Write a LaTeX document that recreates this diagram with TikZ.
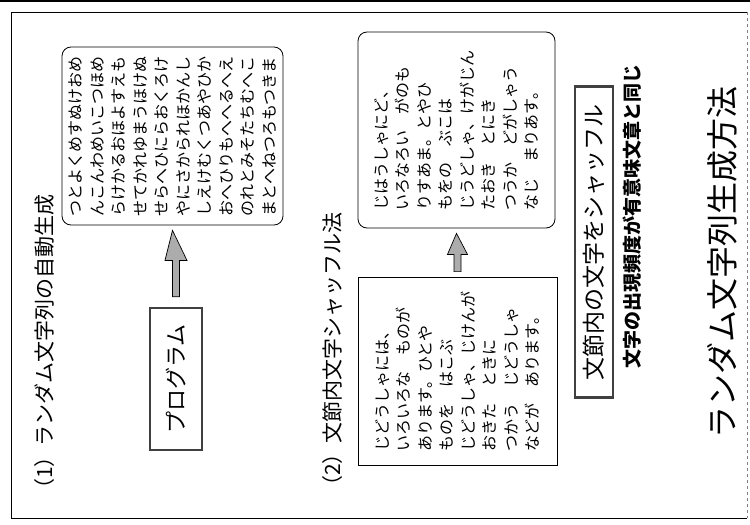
\documentclass[tikz,border=0pt]{standalone}
\usepackage{fontspec}
\setmainfont{Noto Sans CJK JP}
\usetikzlibrary{calc}
\newcommand{\fatarrow}[4]{% tail, tip, head length, head half width
  \path let \p1=(#1), \p2=(#2) in [draw=black, line width=0.7pt, fill=gray!65]
    (\x1-3.5pt,\y1) -- (\x1-3.5pt,\y2-#3) -- (\x1-#4,\y2-#3) -- (\x2,\y2)
    -- (\x1+#4,\y2-#3) -- (\x1+3.5pt,\y2-#3) -- (\x1+3.5pt,\y1) -- cycle;}
\begin{document}
\begin{tikzpicture}[x=1pt,y=-1pt,
  vt/.style={rotate=90, inner sep=0pt},
  hdr/.style={vt, anchor=west, font=\fontsize{21}{24}\selectfont},
  txtbox/.style={rotate=90, draw, line width=0.8pt, align=left, inner sep=0pt,
    font=\fontsize{16}{21.5}\selectfont},
  rbox/.style={txtbox, rounded corners=9pt},
  framebox/.style={rotate=90, draw=black!75, line width=2.4pt, inner sep=0pt}
]
\useasboundingbox (0,0) rectangle (750,525);
% page frame
\draw[line width=1.6pt] (0,1) -- (750,1);
\draw[line width=0.9pt] (11,12) -- (747,12);
\draw[line width=0.9pt] (11,12) -- (11,518) -- (747,518);
\draw[line width=0.5pt, black!50, dashed] (747,12) -- (747,518);

% headers
\node[hdr] (h1) at (45,500) {（1）ランダム文字列の自動生成};
\node[hdr] (h2) at (333,497) {（2）文節内文字シャッフル法};

% section 1
\node[rbox, minimum width=178pt, minimum height=221pt] (b1) at (172.5,136) {%
つとよくめすぬけおめ\\
んこんわめいこつほめ\\
らけかるおほよすえも\\
せてかれゆまうほけぬ\\
せらへひにらおくろけ\\
やにさかられほかんし\\
しえけむくつあやひか\\
おへひりもへへるへえ\\
のれとみそたちむへこ\\
まとへねつろもつきま};
\node[framebox, minimum width=142pt, minimum height=52pt,
  font=\fontsize{22}{24}\selectfont] (prog) at (176,379) {プログラム};
\coordinate (a1tail) at ($(prog.east)+(0,-10)$);
\coordinate (a1tip) at ($(b1.west)+(0,5)$);
\fatarrow{a1tail}{a1tip}{30pt}{11pt}

% section 2
\node[rbox, minimum width=196pt, minimum height=197pt] (b2) at (456.5,130) {%
じはうしゃにど、\\
いろなろい　がのも\\
りすあま。とやひ\\
もをの　ぶこは\\
じうどしゃ、けがじん\\
たおき　とにき\\
つうか　どがしゃう\\
なじ　まりあす。};
\node[txtbox, minimum width=188pt, minimum height=199pt] (b3) at (457.5,371) {%
じどうしゃには、\\
いろいろな　ものが\\
あります。ひとや\\
ものを　はこぶ\\
じどうしゃ、じけんが\\
おきた　ときに\\
つかう　じどうしゃ\\
などが　あります。};
\coordinate (a2tail) at ($(b3.east)+(0,-5)$);
\coordinate (a2tip) at ($(b2.west)+(0,5)$);
\fatarrow{a2tail}{a2tip}{21pt}{10pt}

% right side
\node[framebox, minimum width=311pt, minimum height=38pt,
  font=\fontsize{23}{24}\selectfont] (shuf) at (594,242) {文節内の文字をシャッフル};
\node[vt, font=\fontsize{19}{20}\selectfont\bfseries] (sub) at (632,216) {文字の出現頻度が有意味文章と同じ};
\node[vt, font=\fontsize{32}{34}\selectfont] (title) at (722,262) {ランダム文字列生成方法};
\end{tikzpicture}
\end{document}
